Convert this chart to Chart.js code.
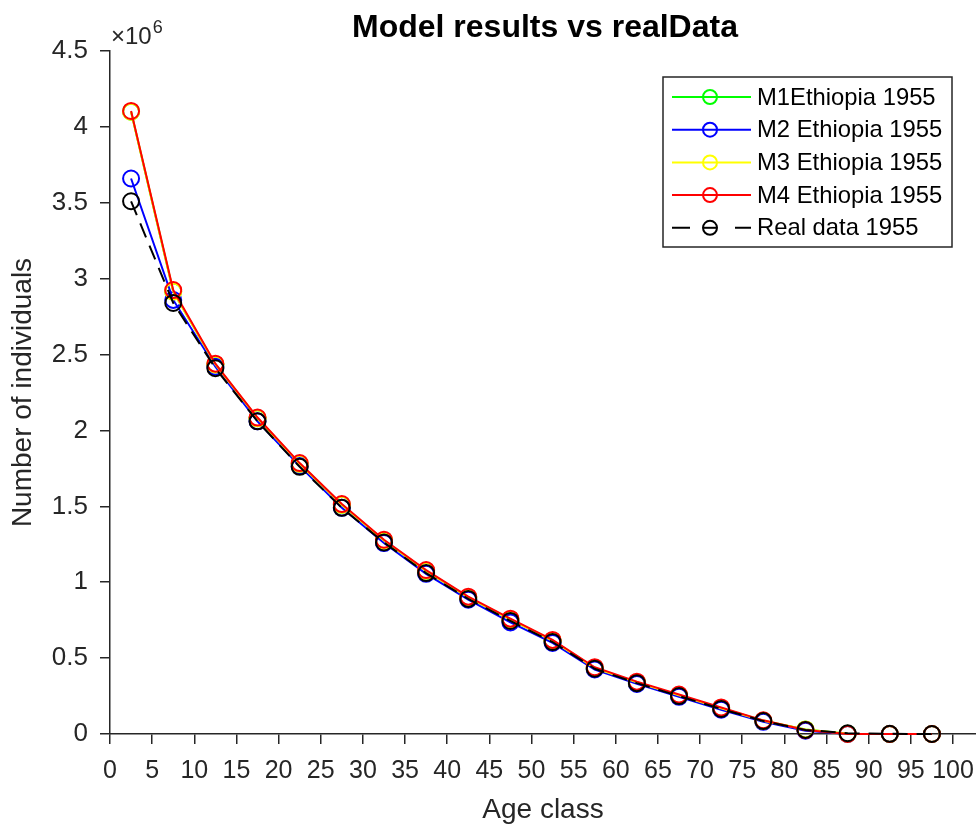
<!DOCTYPE html>
<html>
<head>
<meta charset="utf-8">
<script src="https://cdn.jsdelivr.net/npm/chart.js@4"></script>
<style>
  html, body { margin: 0; padding: 0; background: #fff; }
  #wrap { width: 976px; height: 829px; }
</style>
</head>
<body>
<div id="wrap"><canvas id="popChart" width="976" height="829"></canvas></div>
<script>
// age class midpoints
const ageClass = [2.5, 7.5, 12.5, 17.5, 22.5, 27.5, 32.5, 37.5, 42.5, 47.5,
                  52.5, 57.5, 62.5, 67.5, 72.5, 77.5, 82.5, 87.5, 92.5, 97.5];

// values in millions of individuals
const m1Values = [4.10, 2.915, 2.435, 2.08, 1.78, 1.51, 1.275, 1.075, 0.90, 0.755,
                  0.615, 0.435, 0.34, 0.255, 0.17, 0.087, 0.03, 0.002, 0, 0];
const m2Values = [3.66, 2.86, 2.42, 2.06, 1.765, 1.49, 1.258, 1.055, 0.885, 0.735,
                  0.60, 0.425, 0.33, 0.245, 0.16, 0.08, 0.022, 0, 0, 0];
const m3Values = [4.10, 2.915, 2.435, 2.08, 1.78, 1.51, 1.275, 1.075, 0.90, 0.755,
                  0.615, 0.435, 0.34, 0.255, 0.17, 0.087, 0.03, 0.002, 0, 0];
const m4Values = [4.105, 2.925, 2.44, 2.085, 1.785, 1.515, 1.28, 1.08, 0.905, 0.76,
                  0.62, 0.44, 0.345, 0.26, 0.175, 0.09, 0.026, 0, 0, 0];
const realValues = [3.51, 2.84, 2.41, 2.06, 1.76, 1.49, 1.262, 1.06, 0.89, 0.745,
                    0.606, 0.43, 0.335, 0.25, 0.165, 0.085, 0.027, 0.005, 0.001, 0];

const seriesNames = ['M1Ethiopia 1955', 'M2 Ethiopia 1955', 'M3 Ethiopia 1955', 'M4 Ethiopia 1955', 'Real data 1955'];
const seriesColors = ['#00ff00', '#0000ff', '#ffff00', '#ff0000', '#000000'];
const xTicks = [0, 5, 10, 15, 20, 25, 30, 35, 40, 45, 50, 55, 60, 65, 70, 75, 80, 85, 90, 95, 100];

const AXIS = '#262626';
const FONT = "'Liberation Sans', Arial, sans-serif";

function toPoints(vals) {
    return vals.map((v, i) => ({ x: ageClass[i], y: v * 1e6 }));
}

const allSeries = [m1Values, m2Values, m3Values, m4Values, realValues];
const datasets = allSeries.map((vals, i) => ({
    label: seriesNames[i],
    data: toPoints(vals),
    borderColor: seriesColors[i],
    backgroundColor: 'rgba(0,0,0,0)',
    pointBackgroundColor: 'rgba(0,0,0,0)',
    pointBorderColor: seriesColors[i],
    pointRadius: 8,
    pointBorderWidth: 2,
    borderWidth: 2,
    borderDash: i === 4 ? [15, 9] : [],
    tension: 0,
    clip: false,
    order: 5 - i
}));

// title, exponent label and matlab-like legend
const decorPlugin = {
    id: 'decor',
    afterDraw(chart) {
        const ctx = chart.ctx;
        ctx.save();

        ctx.fillStyle = '#000';
        ctx.font = `bold 32px ${FONT}`;
        ctx.textAlign = 'center';
        ctx.textBaseline = 'alphabetic';
        ctx.fillText('Model results vs realData', 545, 37);

        ctx.fillStyle = AXIS;
        ctx.textAlign = 'left';
        ctx.font = `24px ${FONT}`;
        ctx.fillText('\u00d710', 111, 44);
        const w = ctx.measureText('\u00d710').width;
        ctx.font = `18px ${FONT}`;
        ctx.fillText('6', 112 + w, 33);

        // legend
        const lx = 663, ly = 77, lw = 289, lh = 170;
        ctx.fillStyle = '#fff';
        ctx.fillRect(lx, ly, lw, lh);
        ctx.strokeStyle = AXIS;
        ctx.lineWidth = 1.5;
        ctx.strokeRect(lx, ly, lw, lh);

        const rowY = [97, 129.7, 162.4, 195.1, 227.8];
        ctx.font = `23.8px ${FONT}`;
        ctx.textBaseline = 'middle';
        chart.data.datasets.forEach((ds, i) => {
            const y = rowY[i];
            ctx.strokeStyle = ds.borderColor;
            ctx.lineWidth = 2;
            ctx.setLineDash(i === 4 ? [18, 45] : []);
            ctx.beginPath();
            ctx.moveTo(672, y);
            ctx.lineTo(751, y);
            ctx.stroke();
            ctx.setLineDash([]);
            ctx.beginPath();
            ctx.arc(710, y, 7, 0, Math.PI * 2);
            ctx.stroke();
            if (i === 4) {
                ctx.beginPath();
                ctx.moveTo(703, y);
                ctx.lineTo(717, y);
                ctx.stroke();
            }
            ctx.fillStyle = '#000';
            ctx.fillText(ds.label, 757, y + 1);
        });
        ctx.restore();
    }
};

new Chart(document.getElementById('popChart'), {
    type: 'line',
    data: { datasets: datasets },
    plugins: [decorPlugin],
    options: {
        responsive: false,
        animation: false,
        layout: { autoPadding: false, padding: { top: 51, right: 0, left: 0, bottom: 0 } },
        plugins: {
            legend: { display: false },
            title: { display: false },
            tooltip: { enabled: false }
        },
        scales: {
            x: {
                type: 'linear',
                min: 0,
                max: 102.73,
                afterBuildTicks: s => { s.ticks = xTicks.map(v => ({ value: v })); },
                afterFit: s => { s.height = 95; s.paddingLeft = 0; s.paddingRight = 0; },
                border: { display: true, color: AXIS, width: 1.5 },
                grid: { drawOnChartArea: false, drawTicks: true, tickLength: 10, color: AXIS, lineWidth: 1.5 },
                ticks: {
                    autoSkip: false,
                    maxRotation: 0,
                    padding: 12,
                    color: AXIS,
                    font: { family: FONT, size: 25 },
                    callback: v => String(v)
                },
                title: {
                    display: true,
                    text: 'Age class',
                    color: AXIS,
                    font: { family: FONT, size: 28 },
                    padding: { top: 0, bottom: 2 }
                }
            },
            y: {
                type: 'linear',
                min: 0,
                max: 4.5e6,
                afterFit: s => { s.width = 110; },
                border: { display: true, color: AXIS, width: 1.5 },
                grid: { drawOnChartArea: false, drawTicks: true, tickLength: 10, color: AXIS, lineWidth: 1.5 },
                ticks: {
                    stepSize: 0.5e6,
                    padding: 12,
                    color: AXIS,
                    font: { family: FONT, size: 26 },
                    callback: v => String(Math.round(v / 1e5) / 10)
                },
                title: {
                    display: true,
                    text: 'Number of individuals',
                    color: AXIS,
                    font: { family: FONT, size: 28 },
                    padding: { top: 6, bottom: 0 }
                }
            }
        }
    }
});
</script>
</body>
</html>
